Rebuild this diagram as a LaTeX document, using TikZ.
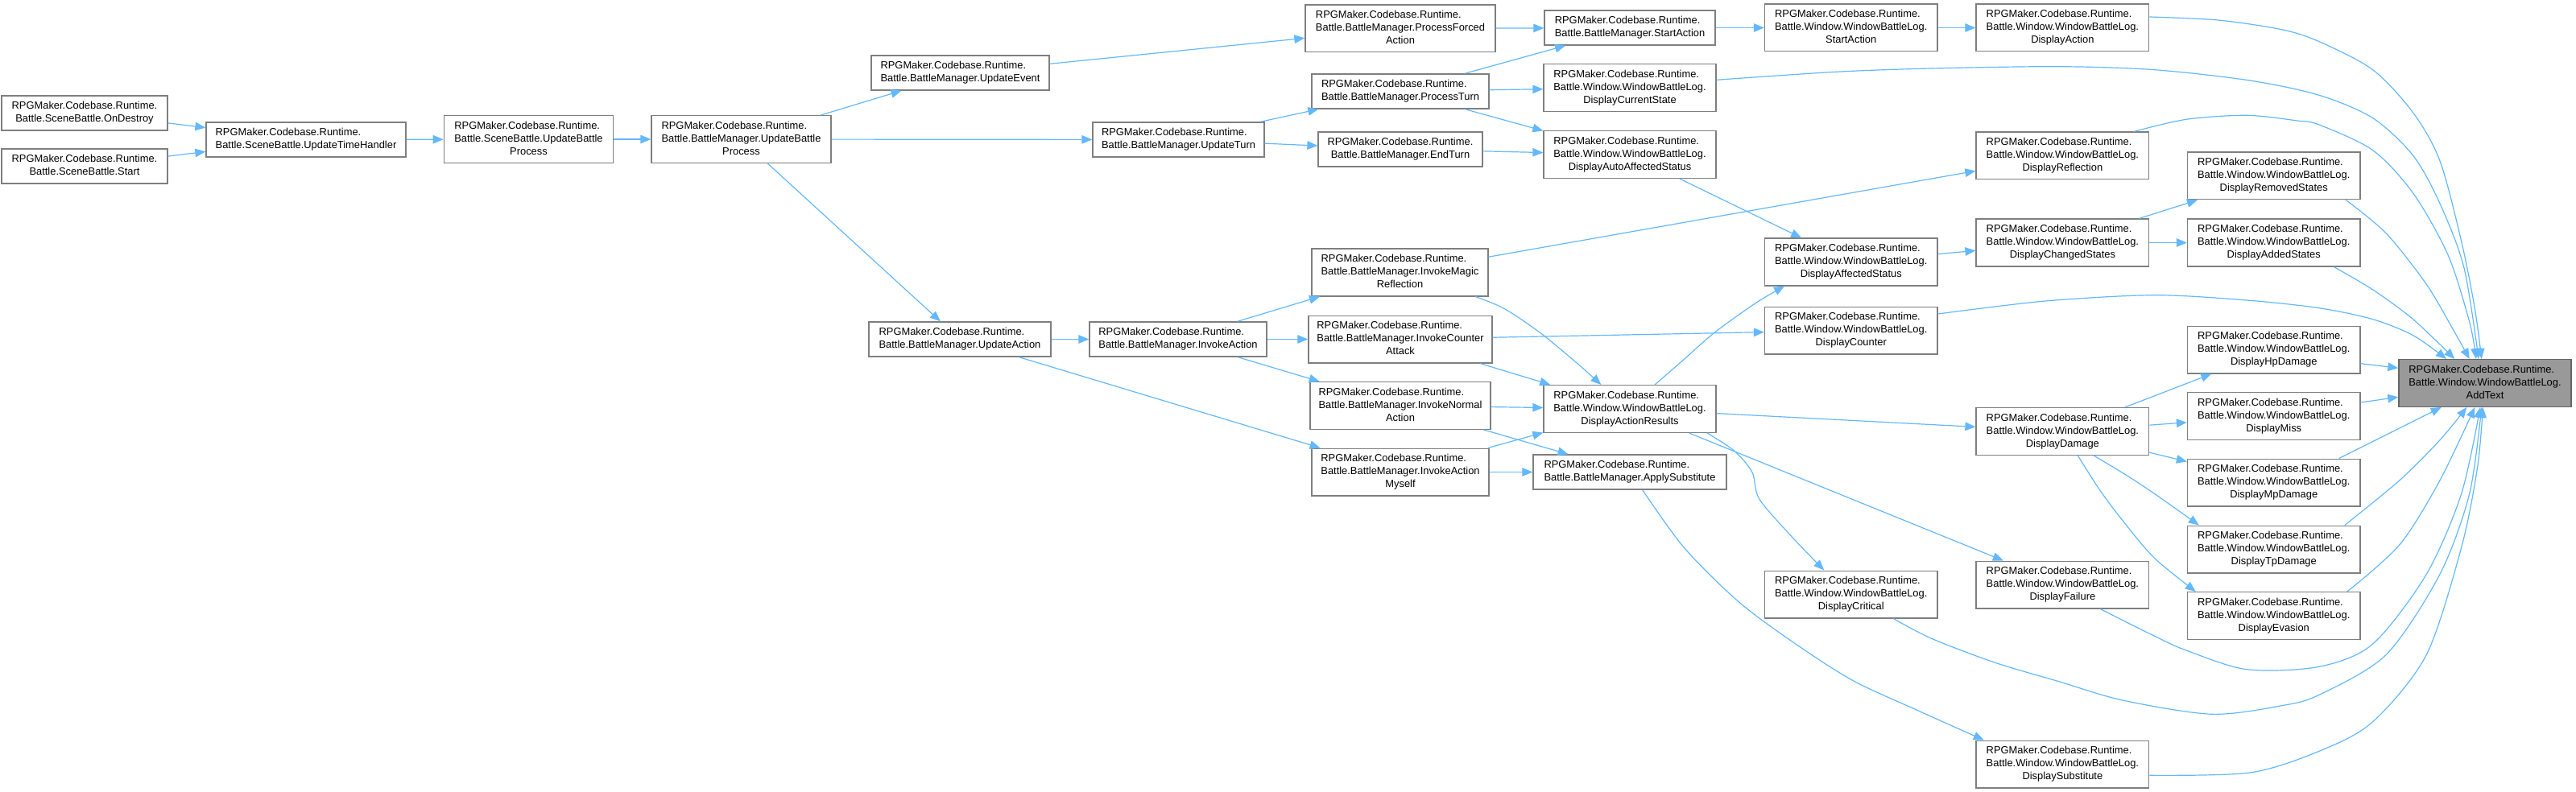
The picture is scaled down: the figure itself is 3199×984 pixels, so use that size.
\documentclass[tikz,border=0pt]{standalone}
\usepackage{fontspec}
\setmainfont{Liberation Sans}
\usetikzlibrary{arrows.meta,calc}
\definecolor{edgeblue}{HTML}{63B8FF}
\definecolor{boxgray}{HTML}{7F7F7F}
\definecolor{rootfill}{HTML}{999999}
\definecolor{rootdraw}{HTML}{666666}
\newcommand{\LTwo}[1]{\begin{tabular}{@{}l@{}}RPGMaker.Codebase.Runtime.\\\multicolumn{1}{@{}c@{}}{#1}\end{tabular}}
\newcommand{\LThree}[2]{\begin{tabular}{@{}l@{}}RPGMaker.Codebase.Runtime.\\#1\\\multicolumn{1}{@{}c@{}}{#2}\end{tabular}}
\newcommand{\WBL}{Battle.Window.WindowBattleLog.}
\tikzset{
  box/.style={draw=boxgray, fill=white, line width=1.3pt, inner sep=0pt,
    minimum height=58.7pt, font=\fontsize{12.9}{16}\selectfont},
  boxtwo/.style={box, minimum height=43pt},
  rootbox/.style={box, draw=rootdraw, fill=rootfill},
  colI/.style={box, minimum width=214.5pt},
  colJ/.style={box, minimum width=214.7pt},
  colK/.style={box, minimum width=214.5pt},
  edge/.style={draw=edgeblue, line width=1.2pt, -{Triangle[length=13pt,width=10.5pt]}},
}
\begin{document}
\begin{tikzpicture}[x=1pt,y=-1pt]
\useasboundingbox (0,0) rectangle (3199,984);

% column A-F
\node[boxtwo, minimum width=206pt] (OnDestroy) at (105,140.5) {\LTwo{Battle.SceneBattle.OnDestroy}};
\node[boxtwo, minimum width=206pt] (Start) at (105,206.5) {\LTwo{Battle.SceneBattle.Start}};
\node[boxtwo, minimum width=248pt] (UTH) at (380,173.5) {\LTwo{Battle.SceneBattle.UpdateTimeHandler}};
\node[box, minimum width=210.5pt] (SBUBP) at (656.5,173) {\LThree{Battle.SceneBattle.UpdateBattle}{Process}};
\node[box, minimum width=223pt] (BMUBP) at (920.5,173) {\LThree{Battle.BattleManager.UpdateBattle}{Process}};
\node[boxtwo, minimum width=221pt] (UEvent) at (1192.5,90.5) {\LTwo{Battle.BattleManager.UpdateEvent}};
\node[boxtwo, minimum width=226pt] (UAction) at (1192,421.5) {\LTwo{Battle.BattleManager.UpdateAction}};
\node[boxtwo, minimum width=213pt] (UTurn) at (1463.5,173.5) {\LTwo{Battle.BattleManager.UpdateTurn}};
\node[boxtwo, minimum width=220pt] (IAction) at (1463,421.5) {\LTwo{Battle.BattleManager.InvokeAction}};

% column G
\node[box, minimum width=236pt] (PFA) at (1739,35.5) {\LThree{Battle.BattleManager.ProcessForced}{Action}};
\node[boxtwo, minimum width=220pt] (PTurn) at (1739,113.5) {\LTwo{Battle.BattleManager.ProcessTurn}};
\node[boxtwo, minimum width=204pt] (ETurn) at (1739,185.5) {\LTwo{Battle.BattleManager.EndTurn}};
\node[box, minimum width=219pt] (IMR) at (1738.5,338.5) {\LThree{Battle.BattleManager.InvokeMagic}{Reflection}};
\node[box, minimum width=228pt] (ICA) at (1739,421.5) {\LThree{Battle.BattleManager.InvokeCounter}{Attack}};
\node[box, minimum width=224pt] (INA) at (1739,504) {\LThree{Battle.BattleManager.InvokeNormal}{Action}};
\node[box, minimum width=220pt] (IAM) at (1739,586.5) {\LThree{Battle.BattleManager.InvokeAction}{Myself}};

% column H
\node[boxtwo, minimum width=212pt] (SABM) at (2024,34.5) {\LTwo{Battle.BattleManager.StartAction}};
\node[box, minimum width=214pt] (DCS) at (2024,109) {\LThree{\WBL}{DisplayCurrentState}};
\node[box, minimum width=214pt] (DAAS) at (2024,192) {\LThree{\WBL}{DisplayAutoAffectedStatus}};
\node[box, minimum width=214pt] (DAR) at (2024,508) {\LThree{\WBL}{DisplayActionResults}};
\node[boxtwo, minimum width=240pt] (AS) at (2024,586.5) {\LTwo{Battle.BattleManager.ApplySubstitute}};

% column I
\node[colI] (WSA) at (2298.75,34.5) {\LThree{\WBL}{StartAction}};
\node[colI] (DAffS) at (2298.75,325.5) {\LThree{\WBL}{DisplayAffectedStatus}};
\node[colI] (DCounter) at (2298.75,410.5) {\LThree{\WBL}{DisplayCounter}};
\node[colI] (DCrit) at (2298.75,738.5) {\LThree{\WBL}{DisplayCritical}};

% column J
\node[colJ] (DAct) at (2561.35,34.5) {\LThree{\WBL}{DisplayAction}};
\node[colJ] (DRefl) at (2561.35,193.5) {\LThree{\WBL}{DisplayReflection}};
\node[colJ] (DChS) at (2561.35,301.5) {\LThree{\WBL}{DisplayChangedStates}};
\node[colJ] (DDmg) at (2561.35,536) {\LThree{\WBL}{DisplayDamage}};
\node[colJ] (DFail) at (2561.35,726.5) {\LThree{\WBL}{DisplayFailure}};
\node[colJ] (DSubst) at (2561.35,949.5) {\LThree{\WBL}{DisplaySubstitute}};

% column K
\node[colK] (DRemS) at (2823.75,218.5) {\LThree{\WBL}{DisplayRemovedStates}};
\node[colK] (DAddS) at (2823.75,301.5) {\LThree{\WBL}{DisplayAddedStates}};
\node[colK] (DHp) at (2823.75,434.5) {\LThree{\WBL}{DisplayHpDamage}};
\node[colK] (DMiss) at (2823.75,517) {\LThree{\WBL}{DisplayMiss}};
\node[colK] (DMp) at (2823.75,599.5) {\LThree{\WBL}{DisplayMpDamage}};
\node[colK] (DTp) at (2823.75,682.5) {\LThree{\WBL}{DisplayTpDamage}};
\node[colK] (DEva) at (2823.75,765) {\LThree{\WBL}{DisplayEvasion}};

% root
\node[rootbox, minimum width=214pt] (AT) at (3086,476) {\LThree{\WBL}{AddText}};

% straight connectors
\draw[edge] (OnDestroy) -- (UTH);
\draw[edge] (Start) -- (UTH);
\draw[edge] (UTH) -- (SBUBP);
\draw[edge] (SBUBP) -- (BMUBP);
\draw[edge] (BMUBP) -- (UEvent);
\draw[edge] (BMUBP) -- (UTurn);
\draw[edge] (BMUBP) -- (UAction);
\draw[edge] (UEvent) -- (PFA);
\draw[edge] (UTurn) -- (PTurn);
\draw[edge] (UTurn) -- (ETurn);
\draw[edge] (UAction) -- (IAction);
\draw[edge] (UAction) -- (IAM);
\draw[edge] (IAction) -- (IMR);
\draw[edge] (IAction) -- (ICA);
\draw[edge] (IAction) -- (INA);
\draw[edge] (PFA) -- (SABM);
\draw[edge] (PTurn) -- (SABM);
\draw[edge] (PTurn) -- (DCS);
\draw[edge] (PTurn) -- (DAAS);
\draw[edge] (ETurn) -- (DAAS);
\draw[edge] (IMR) -- (DRefl);
\draw[edge] (ICA) -- (DCounter);
\draw[edge] (ICA) -- (DAR);
\draw[edge] (INA) -- (DAR);
\draw[edge] (INA) -- (AS);
\draw[edge] (IAM) -- (DAR);
\draw[edge] (IAM) -- (AS);
\draw[edge] (SABM) -- (WSA);
\draw[edge] (WSA) -- (DAct);
\draw[edge] (DAAS) -- (DAffS);
\draw[edge] (DAR) -- (DDmg);
\draw[edge] (DAR) -- (DFail);
\draw[edge] (DAffS) -- (DChS);
\draw[edge] (DChS) -- (DRemS);
\draw[edge] (DChS) -- (DAddS);
\draw[edge] (DDmg) -- (DHp);
\draw[edge] (DDmg) -- (DMiss);
\draw[edge] (DDmg) -- (DMp);
\draw[edge] ($(DHp.east)+(0,17.2)$) -- ($(AT.west)+(0,-18.7)$);
\draw[edge] ($(DMiss.east)+(0,-17)$) -- ($(AT.west)+(0,17.3)$);
\draw[edge] ($(DMp.north)+(81,0)$) -- ($(AT.south)+(-54.3,0)$);

% curved connectors: end points
\coordinate (c22a) at ($(IMR.south)+(93.5,0)$);
\coordinate (c22b) at ($(DAR.north)+(-35.6,0)$);
\coordinate (c32a) at ($(DAR.north)+(31,0)$);
\coordinate (c32b) at ($(DAffS.south)+(-82.75,0)$);
\coordinate (c35a) at ($(DAR.south)+(96,0)$);
\coordinate (c35b) at ($(DCrit.north)+(-33.5,0)$);
\coordinate (c36a) at ($(AS.south)+(15.7,0)$);
\coordinate (c36b) at ($(DSubst.north)+(-97.6,0)$);
\coordinate (c43a) at ($(DDmg.south)+(38.8,0)$);
\coordinate (c43b) at ($(DTp.north)+(-93,0)$);
\coordinate (c44a) at ($(DDmg.south)+(19,0)$);
\coordinate (c44b) at ($(DEva.north)+(-97,0)$);
\coordinate (c45a) at ($(DAct.east)+(0,-13.5)$);
\coordinate (c45b) at ($(AT.north)+(-4.3,0)$);
\coordinate (c46a) at ($(DCS.east)+(0,-9.7)$);
\coordinate (c46b) at ($(AT.north)+(-8,0)$);
\coordinate (c47a) at ($(DRefl.north)+(88.3,0)$);
\coordinate (c47b) at ($(AT.north)+(-11,0)$);
\coordinate (c48a) at ($(DRemS.south)+(89.5,0)$);
\coordinate (c48b) at ($(AT.north)+(-19.3,0)$);
\coordinate (c49a) at ($(DAddS.south)+(74.5,0)$);
\coordinate (c49b) at ($(AT.north)+(-37.7,0)$);
\coordinate (c50a) at ($(DCounter.east)+(0,-20.5)$);
\coordinate (c50b) at ($(AT.north)+(-48,0)$);
\coordinate (c54a) at ($(DTp.north)+(88,0)$);
\coordinate (c54b) at ($(AT.south)+(-22.7,0)$);
\coordinate (c55a) at ($(DEva.north)+(91,0)$);
\coordinate (c55b) at ($(AT.south)+(-12.7,0)$);
\coordinate (c56a) at ($(DFail.south)+(46.7,0)$);
\coordinate (c56b) at ($(AT.south)+(-6,0)$);
\coordinate (c57a) at ($(DCrit.south)+(52.5,0)$);
\coordinate (c57b) at ($(AT.south)+(-4.3,0)$);
\coordinate (c58a) at ($(DSubst.east)+(0,13.8)$);
\coordinate (c58b) at ($(AT.south)+(-2.7,0)$);

\draw[edge] plot[smooth] coordinates {(c22a) (1867.8,383.3) (1912.5,413.3) (1957,450) (c22b)};
\draw[edge] plot[smooth] coordinates {(c32a) (2091,446.7) (2129,413.3) (2180,376.7) (c32b)};
\draw[edge] plot[smooth] coordinates {(c35a) (2153.5,560) (2175.9,586.7) (2184.8,620) (2225,666.7) (c35b)};
\draw[edge] plot[smooth] coordinates {(c36a) (2091,680) (2158,746.7) (2225,796.7) (2300,845) (2380,882) (c36b)};
\draw[edge] plot[smooth] coordinates {(c43a) (2640,590) (2675.4,613.3) (c43b)};
\draw[edge] plot[smooth] coordinates {(c44a) (2607,608) (2635.9,646.7) (2675.4,693.3) (c44b)};

\draw[edge] plot[smooth] coordinates {(c45a) (2754.5,25) (2833.6,36.7) (2880,51.7) (2946.7,86.7) (2996.7,140) (3030,200) (3056.7,300) (3073.3,383.3) (c45b)};
\draw[edge] plot[smooth] coordinates {(c46a) (2280,89.3) (2398.6,85) (2556.8,82.7) (2675.4,86.7) (2794,100) (2880,118.3) (2946.7,146.7) (2996.7,193.3) (3030,253) (3060,333) (c46b)};
\draw[edge] plot[smooth] coordinates {(c47a) (2715,148.3) (2790,143.3) (2853,150) (2880,155) (2946.7,186.7) (2996.7,240) (3040,316.7) (3066.7,400) (c47b)};
\draw[edge] plot[smooth] coordinates {(c48a) (2963.3,290) (3013.3,353.3) (3046.7,410) (c48b)};
\draw[edge] plot[smooth] coordinates {(c49a) (2946.7,360) (2996.7,396.7) (c49b)};
\draw[edge] plot[smooth] coordinates {(c50a) (2540,374) (2675.4,366.7) (2790,373) (2880,382.7) (2946.7,396.7) (2996.7,416.7) (c50b)};
\draw[edge] plot[smooth] coordinates {(c54a) (2980,596.7) (3030,546.7) (c54b)};
\draw[edge] plot[smooth] coordinates {(c55a) (2980,676.7) (3030,596.7) (c55b)};
\draw[edge] plot[smooth] coordinates {(c56a) (2675,790) (2715,808) (2790,831.7) (2880,828.3) (2946.7,800) (3013.3,713.3) (3056.7,613.3) (c56b)};
\draw[edge] plot[smooth] coordinates {(c57a) (2398.6,793.3) (2477.7,823.3) (2556.8,846.7) (2635.9,870) (2746.6,887.3) (2833.6,876.7) (2880,863.3) (2963.3,813.3) (3030,713.3) (3066.7,613.3) (c57b)};
\draw[edge] plot[smooth] coordinates {(c58a) (2794,960) (2880,933.3) (2946.7,896.7) (3013.3,813.3) (3056.7,680) (3076.7,580) (c58b)};
\end{tikzpicture}
\end{document}
